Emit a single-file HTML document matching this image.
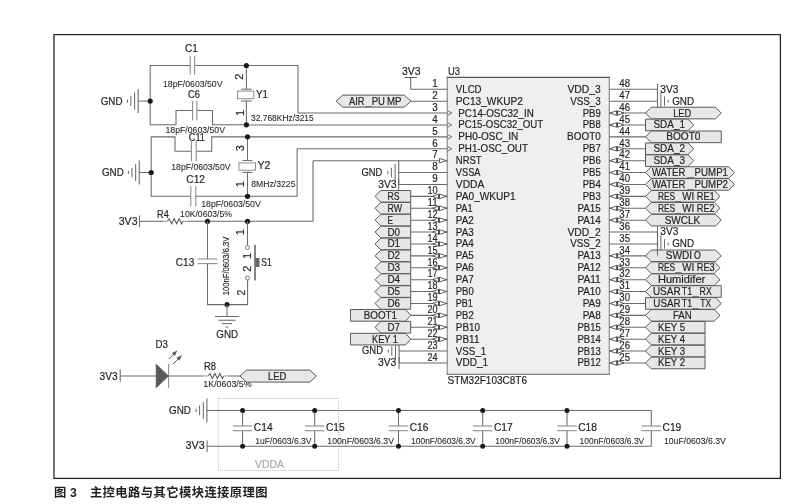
<!DOCTYPE html>
<html><head><meta charset="utf-8"><title>Fig 3</title>
<style>
html,body{margin:0;padding:0;background:#fff;}
body{width:812px;height:504px;overflow:hidden;font-family:"Liberation Sans",sans-serif;}
svg{display:block;will-change:transform;}
svg text{font-family:"Liberation Sans",sans-serif;}
svg text.cap{font-family:"Liberation Sans","Noto Sans CJK SC",sans-serif;font-weight:bold;}
</style></head><body>
<svg width="812" height="504" viewBox="0 0 812 504">
<rect width="812" height="504" fill="#fff"/>
<rect x="53.95" y="34.6" width="726.45" height="443.8" fill="none" stroke="#222" stroke-width="1.25"/>
<rect x="447.3" y="77.4" width="161.99999999999994" height="296.9" fill="#eeeff1" stroke="none"/>
<path d="M447.3 76.8L447.3 374.9" stroke="#959595" stroke-width="1.3" fill="none"/>
<path d="M609.3 76.8L609.3 374.9" stroke="#959595" stroke-width="1.3" fill="none"/>
<path d="M446.7 77.4L609.9 77.4" stroke="#555" stroke-width="1.2" fill="none"/>
<path d="M446.7 374.3L609.9 374.3" stroke="#808080" stroke-width="1.2" fill="none"/>
<text x="448" y="75" font-size="11.5" textLength="12" lengthAdjust="spacingAndGlyphs" fill="#231f20" stroke="#231f20" stroke-width="0.2">U3</text>
<text x="447.5" y="384" font-size="11.2" textLength="79.5" lengthAdjust="spacingAndGlyphs" fill="#231f20" stroke="#231f20" stroke-width="0.2">STM32F103C8T6</text>
<text x="455.8" y="93" font-size="11.2" textLength="25.8" lengthAdjust="spacingAndGlyphs" fill="#231f20" stroke="#231f20" stroke-width="0.2">VLCD</text>
<text x="432.32" y="87" font-size="11.2" textLength="5.48" lengthAdjust="spacingAndGlyphs" fill="#231f20" stroke="#231f20" stroke-width="0.2">1</text>
<text x="455.8" y="105" font-size="11.2" textLength="67.1" lengthAdjust="spacingAndGlyphs" fill="#231f20" stroke="#231f20" stroke-width="0.2">PC13_WKUP2</text>
<text x="432.32" y="99" font-size="11.2" textLength="5.48" lengthAdjust="spacingAndGlyphs" fill="#231f20" stroke="#231f20" stroke-width="0.2">2</text>
<text x="458.3" y="117" font-size="11.2" textLength="75.45" lengthAdjust="spacingAndGlyphs" fill="#231f20" stroke="#231f20" stroke-width="0.2">PC14-OSC32_IN</text>
<path d="M447.6 110.75L451.8 113.05L447.6 115.35" stroke="#666" stroke-width="0.9" fill="none" stroke-linejoin="miter"/>
<text x="432.32" y="111" font-size="11.2" textLength="5.48" lengthAdjust="spacingAndGlyphs" fill="#231f20" stroke="#231f20" stroke-width="0.2">3</text>
<text x="458.3" y="128" font-size="11.2" textLength="84.9" lengthAdjust="spacingAndGlyphs" fill="#231f20" stroke="#231f20" stroke-width="0.2">PC15-OSC32_OUT</text>
<path d="M447.6 122.65L451.8 124.95L447.6 127.25" stroke="#666" stroke-width="0.9" fill="none" stroke-linejoin="miter"/>
<text x="432.32" y="123" font-size="11.2" textLength="5.48" lengthAdjust="spacingAndGlyphs" fill="#231f20" stroke="#231f20" stroke-width="0.2">4</text>
<text x="458.3" y="140" font-size="11.2" textLength="59.9" lengthAdjust="spacingAndGlyphs" fill="#231f20" stroke="#231f20" stroke-width="0.2">PH0-OSC_IN</text>
<path d="M447.6 134.55L451.8 136.85L447.6 139.15" stroke="#666" stroke-width="0.9" fill="none" stroke-linejoin="miter"/>
<text x="432.32" y="135" font-size="11.2" textLength="5.48" lengthAdjust="spacingAndGlyphs" fill="#231f20" stroke="#231f20" stroke-width="0.2">5</text>
<text x="458.3" y="152" font-size="11.2" textLength="69.6" lengthAdjust="spacingAndGlyphs" fill="#231f20" stroke="#231f20" stroke-width="0.2">PH1-OSC_OUT</text>
<path d="M447.6 146.45L451.8 148.75L447.6 151.05" stroke="#666" stroke-width="0.9" fill="none" stroke-linejoin="miter"/>
<text x="432.32" y="147" font-size="11.2" textLength="5.48" lengthAdjust="spacingAndGlyphs" fill="#231f20" stroke="#231f20" stroke-width="0.2">6</text>
<text x="455.8" y="164" font-size="11.2" textLength="25.8" lengthAdjust="spacingAndGlyphs" fill="#231f20" stroke="#231f20" stroke-width="0.2">NRST</text>
<text x="432.32" y="158" font-size="11.2" textLength="5.48" lengthAdjust="spacingAndGlyphs" fill="#231f20" stroke="#231f20" stroke-width="0.2">7</text>
<text x="455.8" y="176" font-size="11.2" textLength="24.7" lengthAdjust="spacingAndGlyphs" fill="#231f20" stroke="#231f20" stroke-width="0.2">VSSA</text>
<text x="432.32" y="170" font-size="11.2" textLength="5.48" lengthAdjust="spacingAndGlyphs" fill="#231f20" stroke="#231f20" stroke-width="0.2">8</text>
<text x="455.8" y="188" font-size="11.2" textLength="28.5" lengthAdjust="spacingAndGlyphs" fill="#231f20" stroke="#231f20" stroke-width="0.2">VDDA</text>
<text x="432.32" y="182" font-size="11.2" textLength="5.48" lengthAdjust="spacingAndGlyphs" fill="#231f20" stroke="#231f20" stroke-width="0.2">9</text>
<text x="455.8" y="200" font-size="11.2" textLength="59.9" lengthAdjust="spacingAndGlyphs" fill="#231f20" stroke="#231f20" stroke-width="0.2">PA0_WKUP1</text>
<text x="427.5" y="194" font-size="11.2" textLength="10.1" lengthAdjust="spacingAndGlyphs" fill="#231f20" stroke="#231f20" stroke-width="0.2">10</text>
<text x="455.8" y="212" font-size="11.2" textLength="17" lengthAdjust="spacingAndGlyphs" fill="#231f20" stroke="#231f20" stroke-width="0.2">PA1</text>
<text x="427.5" y="206" font-size="11.2" textLength="10.1" lengthAdjust="spacingAndGlyphs" fill="#231f20" stroke="#231f20" stroke-width="0.2">11</text>
<text x="455.8" y="224" font-size="11.2" textLength="17.9" lengthAdjust="spacingAndGlyphs" fill="#231f20" stroke="#231f20" stroke-width="0.2">PA2</text>
<text x="427.5" y="218" font-size="11.2" textLength="10.1" lengthAdjust="spacingAndGlyphs" fill="#231f20" stroke="#231f20" stroke-width="0.2">12</text>
<text x="455.8" y="236" font-size="11.2" textLength="17.9" lengthAdjust="spacingAndGlyphs" fill="#231f20" stroke="#231f20" stroke-width="0.2">PA3</text>
<text x="427.5" y="230" font-size="11.2" textLength="10.1" lengthAdjust="spacingAndGlyphs" fill="#231f20" stroke="#231f20" stroke-width="0.2">13</text>
<text x="455.8" y="247" font-size="11.2" textLength="17.9" lengthAdjust="spacingAndGlyphs" fill="#231f20" stroke="#231f20" stroke-width="0.2">PA4</text>
<text x="427.5" y="242" font-size="11.2" textLength="10.1" lengthAdjust="spacingAndGlyphs" fill="#231f20" stroke="#231f20" stroke-width="0.2">14</text>
<text x="455.8" y="259" font-size="11.2" textLength="17.9" lengthAdjust="spacingAndGlyphs" fill="#231f20" stroke="#231f20" stroke-width="0.2">PA5</text>
<text x="427.5" y="254" font-size="11.2" textLength="10.1" lengthAdjust="spacingAndGlyphs" fill="#231f20" stroke="#231f20" stroke-width="0.2">15</text>
<text x="455.8" y="271" font-size="11.2" textLength="17.9" lengthAdjust="spacingAndGlyphs" fill="#231f20" stroke="#231f20" stroke-width="0.2">PA6</text>
<text x="427.5" y="266" font-size="11.2" textLength="10.1" lengthAdjust="spacingAndGlyphs" fill="#231f20" stroke="#231f20" stroke-width="0.2">16</text>
<text x="455.8" y="283" font-size="11.2" textLength="17.9" lengthAdjust="spacingAndGlyphs" fill="#231f20" stroke="#231f20" stroke-width="0.2">PA7</text>
<text x="427.5" y="277" font-size="11.2" textLength="10.1" lengthAdjust="spacingAndGlyphs" fill="#231f20" stroke="#231f20" stroke-width="0.2">17</text>
<text x="455.8" y="295" font-size="11.2" textLength="17.9" lengthAdjust="spacingAndGlyphs" fill="#231f20" stroke="#231f20" stroke-width="0.2">PB0</text>
<text x="427.5" y="289" font-size="11.2" textLength="10.1" lengthAdjust="spacingAndGlyphs" fill="#231f20" stroke="#231f20" stroke-width="0.2">18</text>
<text x="455.8" y="307" font-size="11.2" textLength="17" lengthAdjust="spacingAndGlyphs" fill="#231f20" stroke="#231f20" stroke-width="0.2">PB1</text>
<text x="427.5" y="301" font-size="11.2" textLength="10.1" lengthAdjust="spacingAndGlyphs" fill="#231f20" stroke="#231f20" stroke-width="0.2">19</text>
<text x="455.8" y="319" font-size="11.2" textLength="17.9" lengthAdjust="spacingAndGlyphs" fill="#231f20" stroke="#231f20" stroke-width="0.2">PB2</text>
<text x="427.5" y="313" font-size="11.2" textLength="10.1" lengthAdjust="spacingAndGlyphs" fill="#231f20" stroke="#231f20" stroke-width="0.2">20</text>
<text x="455.8" y="331" font-size="11.2" textLength="24.2" lengthAdjust="spacingAndGlyphs" fill="#231f20" stroke="#231f20" stroke-width="0.2">PB10</text>
<text x="427.5" y="325" font-size="11.2" textLength="10.1" lengthAdjust="spacingAndGlyphs" fill="#231f20" stroke="#231f20" stroke-width="0.2">21</text>
<text x="455.8" y="343" font-size="11.2" textLength="23.7" lengthAdjust="spacingAndGlyphs" fill="#231f20" stroke="#231f20" stroke-width="0.2">PB11</text>
<text x="427.5" y="337" font-size="11.2" textLength="10.1" lengthAdjust="spacingAndGlyphs" fill="#231f20" stroke="#231f20" stroke-width="0.2">22</text>
<text x="455.8" y="355" font-size="11.2" textLength="30.5" lengthAdjust="spacingAndGlyphs" fill="#231f20" stroke="#231f20" stroke-width="0.2">VSS_1</text>
<text x="427.5" y="349" font-size="11.2" textLength="10.1" lengthAdjust="spacingAndGlyphs" fill="#231f20" stroke="#231f20" stroke-width="0.2">23</text>
<text x="455.8" y="366" font-size="11.2" textLength="32.2" lengthAdjust="spacingAndGlyphs" fill="#231f20" stroke="#231f20" stroke-width="0.2">VDD_1</text>
<text x="427.5" y="361" font-size="11.2" textLength="10.1" lengthAdjust="spacingAndGlyphs" fill="#231f20" stroke="#231f20" stroke-width="0.2">24</text>
<text x="567.4" y="93" font-size="11.2" textLength="33.4" lengthAdjust="spacingAndGlyphs" fill="#231f20" stroke="#231f20" stroke-width="0.2">VDD_3</text>
<text x="619.3" y="87" font-size="11.2" textLength="10.7" lengthAdjust="spacingAndGlyphs" fill="#231f20" stroke="#231f20" stroke-width="0.2">48</text>
<text x="570.2" y="105" font-size="11.2" textLength="30.6" lengthAdjust="spacingAndGlyphs" fill="#231f20" stroke="#231f20" stroke-width="0.2">VSS_3</text>
<text x="619.3" y="99" font-size="11.2" textLength="10.7" lengthAdjust="spacingAndGlyphs" fill="#231f20" stroke="#231f20" stroke-width="0.2">47</text>
<text x="582.7" y="117" font-size="11.2" textLength="18.1" lengthAdjust="spacingAndGlyphs" fill="#231f20" stroke="#231f20" stroke-width="0.2">PB9</text>
<text x="619.3" y="111" font-size="11.2" textLength="10.7" lengthAdjust="spacingAndGlyphs" fill="#231f20" stroke="#231f20" stroke-width="0.2">46</text>
<text x="582.7" y="128" font-size="11.2" textLength="18.1" lengthAdjust="spacingAndGlyphs" fill="#231f20" stroke="#231f20" stroke-width="0.2">PB8</text>
<text x="619.3" y="123" font-size="11.2" textLength="10.7" lengthAdjust="spacingAndGlyphs" fill="#231f20" stroke="#231f20" stroke-width="0.2">45</text>
<text x="567.1" y="140" font-size="11.2" textLength="33.7" lengthAdjust="spacingAndGlyphs" fill="#231f20" stroke="#231f20" stroke-width="0.2">BOOT0</text>
<text x="619.3" y="135" font-size="11.2" textLength="10.7" lengthAdjust="spacingAndGlyphs" fill="#231f20" stroke="#231f20" stroke-width="0.2">44</text>
<text x="582.7" y="152" font-size="11.2" textLength="18.1" lengthAdjust="spacingAndGlyphs" fill="#231f20" stroke="#231f20" stroke-width="0.2">PB7</text>
<text x="619.3" y="147" font-size="11.2" textLength="10.7" lengthAdjust="spacingAndGlyphs" fill="#231f20" stroke="#231f20" stroke-width="0.2">43</text>
<text x="582.7" y="164" font-size="11.2" textLength="18.1" lengthAdjust="spacingAndGlyphs" fill="#231f20" stroke="#231f20" stroke-width="0.2">PB6</text>
<text x="619.3" y="158" font-size="11.2" textLength="10.7" lengthAdjust="spacingAndGlyphs" fill="#231f20" stroke="#231f20" stroke-width="0.2">42</text>
<text x="582.7" y="176" font-size="11.2" textLength="18.1" lengthAdjust="spacingAndGlyphs" fill="#231f20" stroke="#231f20" stroke-width="0.2">PB5</text>
<text x="619.3" y="170" font-size="11.2" textLength="10.7" lengthAdjust="spacingAndGlyphs" fill="#231f20" stroke="#231f20" stroke-width="0.2">41</text>
<text x="582.7" y="188" font-size="11.2" textLength="18.1" lengthAdjust="spacingAndGlyphs" fill="#231f20" stroke="#231f20" stroke-width="0.2">PB4</text>
<text x="619.3" y="182" font-size="11.2" textLength="10.7" lengthAdjust="spacingAndGlyphs" fill="#231f20" stroke="#231f20" stroke-width="0.2">40</text>
<text x="582.7" y="200" font-size="11.2" textLength="18.1" lengthAdjust="spacingAndGlyphs" fill="#231f20" stroke="#231f20" stroke-width="0.2">PB3</text>
<text x="619.3" y="194" font-size="11.2" textLength="10.7" lengthAdjust="spacingAndGlyphs" fill="#231f20" stroke="#231f20" stroke-width="0.2">39</text>
<text x="577.4" y="212" font-size="11.2" textLength="23.4" lengthAdjust="spacingAndGlyphs" fill="#231f20" stroke="#231f20" stroke-width="0.2">PA15</text>
<text x="619.3" y="206" font-size="11.2" textLength="10.7" lengthAdjust="spacingAndGlyphs" fill="#231f20" stroke="#231f20" stroke-width="0.2">38</text>
<text x="577.4" y="224" font-size="11.2" textLength="23.4" lengthAdjust="spacingAndGlyphs" fill="#231f20" stroke="#231f20" stroke-width="0.2">PA14</text>
<text x="619.3" y="218" font-size="11.2" textLength="10.7" lengthAdjust="spacingAndGlyphs" fill="#231f20" stroke="#231f20" stroke-width="0.2">37</text>
<text x="567.4" y="236" font-size="11.2" textLength="33.4" lengthAdjust="spacingAndGlyphs" fill="#231f20" stroke="#231f20" stroke-width="0.2">VDD_2</text>
<text x="619.3" y="230" font-size="11.2" textLength="10.7" lengthAdjust="spacingAndGlyphs" fill="#231f20" stroke="#231f20" stroke-width="0.2">36</text>
<text x="570.2" y="247" font-size="11.2" textLength="30.6" lengthAdjust="spacingAndGlyphs" fill="#231f20" stroke="#231f20" stroke-width="0.2">VSS_2</text>
<text x="619.3" y="242" font-size="11.2" textLength="10.7" lengthAdjust="spacingAndGlyphs" fill="#231f20" stroke="#231f20" stroke-width="0.2">35</text>
<text x="577.4" y="259" font-size="11.2" textLength="23.4" lengthAdjust="spacingAndGlyphs" fill="#231f20" stroke="#231f20" stroke-width="0.2">PA13</text>
<text x="619.3" y="254" font-size="11.2" textLength="10.7" lengthAdjust="spacingAndGlyphs" fill="#231f20" stroke="#231f20" stroke-width="0.2">34</text>
<text x="577.4" y="271" font-size="11.2" textLength="23.4" lengthAdjust="spacingAndGlyphs" fill="#231f20" stroke="#231f20" stroke-width="0.2">PA12</text>
<text x="619.3" y="266" font-size="11.2" textLength="10.7" lengthAdjust="spacingAndGlyphs" fill="#231f20" stroke="#231f20" stroke-width="0.2">33</text>
<text x="577.4" y="283" font-size="11.2" textLength="23.4" lengthAdjust="spacingAndGlyphs" fill="#231f20" stroke="#231f20" stroke-width="0.2">PA11</text>
<text x="619.3" y="277" font-size="11.2" textLength="10.7" lengthAdjust="spacingAndGlyphs" fill="#231f20" stroke="#231f20" stroke-width="0.2">32</text>
<text x="577.4" y="295" font-size="11.2" textLength="23.4" lengthAdjust="spacingAndGlyphs" fill="#231f20" stroke="#231f20" stroke-width="0.2">PA10</text>
<text x="619.3" y="289" font-size="11.2" textLength="10.7" lengthAdjust="spacingAndGlyphs" fill="#231f20" stroke="#231f20" stroke-width="0.2">31</text>
<text x="582.7" y="307" font-size="11.2" textLength="18.1" lengthAdjust="spacingAndGlyphs" fill="#231f20" stroke="#231f20" stroke-width="0.2">PA9</text>
<text x="619.3" y="301" font-size="11.2" textLength="10.7" lengthAdjust="spacingAndGlyphs" fill="#231f20" stroke="#231f20" stroke-width="0.2">30</text>
<text x="582.7" y="319" font-size="11.2" textLength="18.1" lengthAdjust="spacingAndGlyphs" fill="#231f20" stroke="#231f20" stroke-width="0.2">PA8</text>
<text x="619.3" y="313" font-size="11.2" textLength="10.7" lengthAdjust="spacingAndGlyphs" fill="#231f20" stroke="#231f20" stroke-width="0.2">29</text>
<text x="577.4" y="331" font-size="11.2" textLength="23.4" lengthAdjust="spacingAndGlyphs" fill="#231f20" stroke="#231f20" stroke-width="0.2">PB15</text>
<text x="619.3" y="325" font-size="11.2" textLength="10.7" lengthAdjust="spacingAndGlyphs" fill="#231f20" stroke="#231f20" stroke-width="0.2">28</text>
<text x="577.4" y="343" font-size="11.2" textLength="23.4" lengthAdjust="spacingAndGlyphs" fill="#231f20" stroke="#231f20" stroke-width="0.2">PB14</text>
<text x="619.3" y="337" font-size="11.2" textLength="10.7" lengthAdjust="spacingAndGlyphs" fill="#231f20" stroke="#231f20" stroke-width="0.2">27</text>
<text x="577.4" y="355" font-size="11.2" textLength="23.4" lengthAdjust="spacingAndGlyphs" fill="#231f20" stroke="#231f20" stroke-width="0.2">PB13</text>
<text x="619.3" y="349" font-size="11.2" textLength="10.7" lengthAdjust="spacingAndGlyphs" fill="#231f20" stroke="#231f20" stroke-width="0.2">26</text>
<text x="577.4" y="366" font-size="11.2" textLength="23.4" lengthAdjust="spacingAndGlyphs" fill="#231f20" stroke="#231f20" stroke-width="0.2">PB12</text>
<text x="619.3" y="361" font-size="11.2" textLength="10.7" lengthAdjust="spacingAndGlyphs" fill="#231f20" stroke="#231f20" stroke-width="0.2">25</text>
<text x="402" y="75" font-size="11.5" textLength="18.5" lengthAdjust="spacingAndGlyphs" fill="#231f20" stroke="#231f20" stroke-width="0.2">3V3</text>
<path d="M404.6 77.5L417 77.5" stroke="#5a5a5a" stroke-width="1.05" fill="none"/>
<path d="M410.7 77.5L410.7 89.25L447.3 89.25" stroke="#6a6a6a" stroke-width="1.05" fill="none" stroke-linejoin="miter"/>
<path d="M411 101.15L447.3 101.15" stroke="#6a6a6a" stroke-width="1.05" fill="none"/>
<path d="M336.1 101.15L342.8 95.15L404.3 95.15L411 101.15L404.3 107.15L342.8 107.15Z" stroke="#58595b" stroke-width="1" fill="#e6e7e9" stroke-linejoin="miter"/>
<text x="349" y="105" font-size="11" textLength="15.6" lengthAdjust="spacingAndGlyphs" fill="#231f20" stroke="#231f20" stroke-width="0.2">AIR</text>
<text x="365.3" y="105" font-size="11" textLength="5.9" lengthAdjust="spacingAndGlyphs" fill="#6d6e71" stroke="#6d6e71" stroke-width="0.2">_</text>
<text x="371.7" y="105" font-size="11" textLength="13.2" lengthAdjust="spacingAndGlyphs" fill="#231f20" stroke="#231f20" stroke-width="0.2">PU</text>
<text x="386.9" y="105" font-size="11" textLength="14.5" lengthAdjust="spacingAndGlyphs" fill="#231f20" stroke="#231f20" stroke-width="0.2">MP</text>
<path d="M298 113.05L447.3 113.05" stroke="#6a6a6a" stroke-width="1.05" fill="none"/>
<path d="M246.5 124.95L447.3 124.95" stroke="#6a6a6a" stroke-width="1.05" fill="none"/>
<path d="M247.5 136.85L447.3 136.85" stroke="#6a6a6a" stroke-width="1.05" fill="none"/>
<path d="M297.1 148.75L447.3 148.75" stroke="#6a6a6a" stroke-width="1.05" fill="none"/>
<path d="M313 160.65L447.3 160.65" stroke="#6a6a6a" stroke-width="1.05" fill="none"/>
<path d="M439.5 158.45L446.4 160.65L439.5 162.85Z" stroke="#505050" stroke-width="0.9" fill="#fff" stroke-linejoin="miter"/>
<path d="M398.7 160.65L398.7 184.45" stroke="#6a6a6a" stroke-width="1.1" fill="none"/>
<path d="M395.1 164.05L395.1 181.05" stroke="#6a6a6a" stroke-width="1.05" fill="none"/>
<path d="M391.4 167.75L391.4 177.35" stroke="#6a6a6a" stroke-width="1.05" fill="none"/>
<path d="M387.9 170.95L387.9 174.15" stroke="#6a6a6a" stroke-width="1.05" fill="none"/>
<path d="M398.7 172.55L447.3 172.55" stroke="#6a6a6a" stroke-width="1.05" fill="none"/>
<text x="361.5" y="176" font-size="11.5" textLength="20.9" lengthAdjust="spacingAndGlyphs" fill="#231f20" stroke="#231f20" stroke-width="0.2">GND</text>
<path d="M398.7 178.85L398.7 190.85" stroke="#6a6a6a" stroke-width="1.05" fill="none"/>
<path d="M398.7 184.45L447.3 184.45" stroke="#6a6a6a" stroke-width="1.05" fill="none"/>
<text x="378.3" y="188" font-size="11.5" textLength="18.3" lengthAdjust="spacingAndGlyphs" fill="#231f20" stroke="#231f20" stroke-width="0.2">3V3</text>
<path d="M399.1 339.15L399.1 362.95" stroke="#6a6a6a" stroke-width="1.1" fill="none"/>
<path d="M395.5 342.55L395.5 359.55" stroke="#6a6a6a" stroke-width="1.05" fill="none"/>
<path d="M391.8 346.25L391.8 355.85" stroke="#6a6a6a" stroke-width="1.05" fill="none"/>
<path d="M388.3 349.45L388.3 352.65" stroke="#6a6a6a" stroke-width="1.05" fill="none"/>
<path d="M399.1 351.05L447.3 351.05" stroke="#6a6a6a" stroke-width="1.05" fill="none"/>
<text x="362" y="354" font-size="11.5" textLength="21" lengthAdjust="spacingAndGlyphs" fill="#231f20" stroke="#231f20" stroke-width="0.2">GND</text>
<path d="M399.1 357.35L399.1 368.95" stroke="#6a6a6a" stroke-width="1.05" fill="none"/>
<path d="M399.1 362.95L447.3 362.95" stroke="#6a6a6a" stroke-width="1.05" fill="none"/>
<text x="378" y="366" font-size="11.5" textLength="18.3" lengthAdjust="spacingAndGlyphs" fill="#231f20" stroke="#231f20" stroke-width="0.2">3V3</text>
<path d="M410.6 196.35L447.3 196.35" stroke="#6a6a6a" stroke-width="1.05" fill="none"/>
<path d="M375 196.35L380.8 190.55L410.7 190.55L410.7 202.15L380.8 202.15Z" stroke="#58595b" stroke-width="1" fill="#e6e7e9" stroke-linejoin="miter"/>
<text x="387.5" y="200" font-size="11.0" textLength="12.1" lengthAdjust="spacingAndGlyphs" fill="#231f20" stroke="#231f20" stroke-width="0.2">RS</text>
<path d="M432.7 196.35L438.6 194.15L438.6 198.55Z" stroke="#4a4a4a" stroke-width="0.9" fill="#fff" stroke-linejoin="miter"/>
<path d="M446.8 196.35L439.4 194.05L439.4 198.65Z" stroke="#4a4a4a" stroke-width="0.9" fill="#fff" stroke-linejoin="miter"/>
<path d="M439 194.05L439 198.65" stroke="#444" stroke-width="1.3" fill="none"/>
<path d="M410.6 208.25L447.3 208.25" stroke="#6a6a6a" stroke-width="1.05" fill="none"/>
<path d="M375 208.25L380.8 202.45L410.7 202.45L410.7 214.05L380.8 214.05Z" stroke="#58595b" stroke-width="1" fill="#e6e7e9" stroke-linejoin="miter"/>
<text x="387.5" y="212" font-size="11.0" textLength="14.5" lengthAdjust="spacingAndGlyphs" fill="#231f20" stroke="#231f20" stroke-width="0.2">RW</text>
<path d="M432.7 208.25L438.6 206.05L438.6 210.45Z" stroke="#4a4a4a" stroke-width="0.9" fill="#fff" stroke-linejoin="miter"/>
<path d="M446.8 208.25L439.4 205.95L439.4 210.55Z" stroke="#4a4a4a" stroke-width="0.9" fill="#fff" stroke-linejoin="miter"/>
<path d="M439 205.95L439 210.55" stroke="#444" stroke-width="1.3" fill="none"/>
<path d="M410.6 220.15L447.3 220.15" stroke="#6a6a6a" stroke-width="1.05" fill="none"/>
<path d="M375 220.15L380.8 214.35L410.7 214.35L410.7 225.95L380.8 225.95Z" stroke="#58595b" stroke-width="1" fill="#e6e7e9" stroke-linejoin="miter"/>
<text x="387.5" y="224" font-size="11.0" textLength="5.5" lengthAdjust="spacingAndGlyphs" fill="#231f20" stroke="#231f20" stroke-width="0.2">E</text>
<path d="M432.7 220.15L438.6 217.95L438.6 222.35Z" stroke="#4a4a4a" stroke-width="0.9" fill="#fff" stroke-linejoin="miter"/>
<path d="M446.8 220.15L439.4 217.85L439.4 222.45Z" stroke="#4a4a4a" stroke-width="0.9" fill="#fff" stroke-linejoin="miter"/>
<path d="M439 217.85L439 222.45" stroke="#444" stroke-width="1.3" fill="none"/>
<path d="M410.6 232.05L447.3 232.05" stroke="#6a6a6a" stroke-width="1.05" fill="none"/>
<path d="M375 232.05L380.8 226.25L410.7 226.25L410.7 237.85L380.8 237.85Z" stroke="#58595b" stroke-width="1" fill="#e6e7e9" stroke-linejoin="miter"/>
<text x="387.5" y="236" font-size="11.0" textLength="12.6" lengthAdjust="spacingAndGlyphs" fill="#231f20" stroke="#231f20" stroke-width="0.2">D0</text>
<path d="M432.7 232.05L438.6 229.85L438.6 234.25Z" stroke="#4a4a4a" stroke-width="0.9" fill="#fff" stroke-linejoin="miter"/>
<path d="M446.8 232.05L439.4 229.75L439.4 234.35Z" stroke="#4a4a4a" stroke-width="0.9" fill="#fff" stroke-linejoin="miter"/>
<path d="M439 229.75L439 234.35" stroke="#444" stroke-width="1.3" fill="none"/>
<path d="M410.6 243.95L447.3 243.95" stroke="#6a6a6a" stroke-width="1.05" fill="none"/>
<path d="M375 243.95L380.8 238.15L410.7 238.15L410.7 249.75L380.8 249.75Z" stroke="#58595b" stroke-width="1" fill="#e6e7e9" stroke-linejoin="miter"/>
<text x="387.5" y="247" font-size="11.0" textLength="12.6" lengthAdjust="spacingAndGlyphs" fill="#231f20" stroke="#231f20" stroke-width="0.2">D1</text>
<path d="M432.7 243.95L438.6 241.75L438.6 246.15Z" stroke="#4a4a4a" stroke-width="0.9" fill="#fff" stroke-linejoin="miter"/>
<path d="M446.8 243.95L439.4 241.65L439.4 246.25Z" stroke="#4a4a4a" stroke-width="0.9" fill="#fff" stroke-linejoin="miter"/>
<path d="M439 241.65L439 246.25" stroke="#444" stroke-width="1.3" fill="none"/>
<path d="M410.6 255.85L447.3 255.85" stroke="#6a6a6a" stroke-width="1.05" fill="none"/>
<path d="M375 255.85L380.8 250.05L410.7 250.05L410.7 261.65L380.8 261.65Z" stroke="#58595b" stroke-width="1" fill="#e6e7e9" stroke-linejoin="miter"/>
<text x="387.5" y="259" font-size="11.0" textLength="12.6" lengthAdjust="spacingAndGlyphs" fill="#231f20" stroke="#231f20" stroke-width="0.2">D2</text>
<path d="M432.7 255.85L438.6 253.65L438.6 258.05Z" stroke="#4a4a4a" stroke-width="0.9" fill="#fff" stroke-linejoin="miter"/>
<path d="M446.8 255.85L439.4 253.55L439.4 258.15Z" stroke="#4a4a4a" stroke-width="0.9" fill="#fff" stroke-linejoin="miter"/>
<path d="M439 253.55L439 258.15" stroke="#444" stroke-width="1.3" fill="none"/>
<path d="M410.6 267.75L447.3 267.75" stroke="#6a6a6a" stroke-width="1.05" fill="none"/>
<path d="M375 267.75L380.8 261.95L410.7 261.95L410.7 273.55L380.8 273.55Z" stroke="#58595b" stroke-width="1" fill="#e6e7e9" stroke-linejoin="miter"/>
<text x="387.5" y="271" font-size="11.0" textLength="12.6" lengthAdjust="spacingAndGlyphs" fill="#231f20" stroke="#231f20" stroke-width="0.2">D3</text>
<path d="M432.7 267.75L438.6 265.55L438.6 269.95Z" stroke="#4a4a4a" stroke-width="0.9" fill="#fff" stroke-linejoin="miter"/>
<path d="M446.8 267.75L439.4 265.45L439.4 270.05Z" stroke="#4a4a4a" stroke-width="0.9" fill="#fff" stroke-linejoin="miter"/>
<path d="M439 265.45L439 270.05" stroke="#444" stroke-width="1.3" fill="none"/>
<path d="M410.6 279.65L447.3 279.65" stroke="#6a6a6a" stroke-width="1.05" fill="none"/>
<path d="M375 279.65L380.8 273.85L410.7 273.85L410.7 285.45L380.8 285.45Z" stroke="#58595b" stroke-width="1" fill="#e6e7e9" stroke-linejoin="miter"/>
<text x="387.5" y="283" font-size="11.0" textLength="12.6" lengthAdjust="spacingAndGlyphs" fill="#231f20" stroke="#231f20" stroke-width="0.2">D4</text>
<path d="M432.7 279.65L438.6 277.45L438.6 281.85Z" stroke="#4a4a4a" stroke-width="0.9" fill="#fff" stroke-linejoin="miter"/>
<path d="M446.8 279.65L439.4 277.35L439.4 281.95Z" stroke="#4a4a4a" stroke-width="0.9" fill="#fff" stroke-linejoin="miter"/>
<path d="M439 277.35L439 281.95" stroke="#444" stroke-width="1.3" fill="none"/>
<path d="M410.6 291.55L447.3 291.55" stroke="#6a6a6a" stroke-width="1.05" fill="none"/>
<path d="M375 291.55L380.8 285.75L410.7 285.75L410.7 297.35L380.8 297.35Z" stroke="#58595b" stroke-width="1" fill="#e6e7e9" stroke-linejoin="miter"/>
<text x="387.5" y="295" font-size="11.0" textLength="12.6" lengthAdjust="spacingAndGlyphs" fill="#231f20" stroke="#231f20" stroke-width="0.2">D5</text>
<path d="M432.7 291.55L438.6 289.35L438.6 293.75Z" stroke="#4a4a4a" stroke-width="0.9" fill="#fff" stroke-linejoin="miter"/>
<path d="M446.8 291.55L439.4 289.25L439.4 293.85Z" stroke="#4a4a4a" stroke-width="0.9" fill="#fff" stroke-linejoin="miter"/>
<path d="M439 289.25L439 293.85" stroke="#444" stroke-width="1.3" fill="none"/>
<path d="M410.6 303.45L447.3 303.45" stroke="#6a6a6a" stroke-width="1.05" fill="none"/>
<path d="M375 303.45L380.8 297.65L410.7 297.65L410.7 309.25L380.8 309.25Z" stroke="#58595b" stroke-width="1" fill="#e6e7e9" stroke-linejoin="miter"/>
<text x="387.5" y="307" font-size="11.0" textLength="12.6" lengthAdjust="spacingAndGlyphs" fill="#231f20" stroke="#231f20" stroke-width="0.2">D6</text>
<path d="M432.7 303.45L438.6 301.25L438.6 305.65Z" stroke="#4a4a4a" stroke-width="0.9" fill="#fff" stroke-linejoin="miter"/>
<path d="M446.8 303.45L439.4 301.15L439.4 305.75Z" stroke="#4a4a4a" stroke-width="0.9" fill="#fff" stroke-linejoin="miter"/>
<path d="M439 301.15L439 305.75" stroke="#444" stroke-width="1.3" fill="none"/>
<path d="M410.6 327.25L447.3 327.25" stroke="#6a6a6a" stroke-width="1.05" fill="none"/>
<path d="M375 327.25L380.8 321.45L410.7 321.45L410.7 333.05L380.8 333.05Z" stroke="#58595b" stroke-width="1" fill="#e6e7e9" stroke-linejoin="miter"/>
<text x="387.5" y="331" font-size="11.0" textLength="12.5" lengthAdjust="spacingAndGlyphs" fill="#231f20" stroke="#231f20" stroke-width="0.2">D7</text>
<path d="M432.7 327.25L438.6 325.05L438.6 329.45Z" stroke="#4a4a4a" stroke-width="0.9" fill="#fff" stroke-linejoin="miter"/>
<path d="M446.8 327.25L439.4 324.95L439.4 329.55Z" stroke="#4a4a4a" stroke-width="0.9" fill="#fff" stroke-linejoin="miter"/>
<path d="M439 324.95L439 329.55" stroke="#444" stroke-width="1.3" fill="none"/>
<path d="M410.6 315.35L447.3 315.35" stroke="#6a6a6a" stroke-width="1.05" fill="none"/>
<path d="M350.5 321.15L350.5 309.55L405.5 309.55L410.8 315.35L405.5 321.15Z" stroke="#58595b" stroke-width="1" fill="#e6e7e9" stroke-linejoin="miter"/>
<text x="363.75" y="319" font-size="11.0" textLength="33.25" lengthAdjust="spacingAndGlyphs" fill="#231f20" stroke="#231f20" stroke-width="0.2">BOOT1</text>
<path d="M432.7 315.35L438.6 313.15L438.6 317.55Z" stroke="#4a4a4a" stroke-width="0.9" fill="#fff" stroke-linejoin="miter"/>
<path d="M446.8 315.35L439.4 313.05L439.4 317.65Z" stroke="#4a4a4a" stroke-width="0.9" fill="#fff" stroke-linejoin="miter"/>
<path d="M439 313.05L439 317.65" stroke="#444" stroke-width="1.3" fill="none"/>
<path d="M410.6 339.15L447.3 339.15" stroke="#6a6a6a" stroke-width="1.05" fill="none"/>
<path d="M350.5 344.95L350.5 333.35L405.5 333.35L410.8 339.15L405.5 344.95Z" stroke="#58595b" stroke-width="1" fill="#e6e7e9" stroke-linejoin="miter"/>
<text x="372" y="343" font-size="11.0" textLength="26" lengthAdjust="spacingAndGlyphs" fill="#231f20" stroke="#231f20" stroke-width="0.2">KEY 1</text>
<path d="M432.7 339.15L438.6 336.95L438.6 341.35Z" stroke="#4a4a4a" stroke-width="0.9" fill="#fff" stroke-linejoin="miter"/>
<path d="M446.8 339.15L439.4 336.85L439.4 341.45Z" stroke="#4a4a4a" stroke-width="0.9" fill="#fff" stroke-linejoin="miter"/>
<path d="M439 336.85L439 341.45" stroke="#444" stroke-width="1.3" fill="none"/>
<path d="M609.3 89.25L657.5 89.25" stroke="#6a6a6a" stroke-width="1.05" fill="none"/>
<path d="M657.5 83.65L657.5 94.85" stroke="#6a6a6a" stroke-width="1.05" fill="none"/>
<text x="660.3" y="93" font-size="11.5" textLength="18" lengthAdjust="spacingAndGlyphs" fill="#231f20" stroke="#231f20" stroke-width="0.2">3V3</text>
<path d="M657.5 89.25L657.5 113.05" stroke="#6a6a6a" stroke-width="1.1" fill="none"/>
<path d="M660.9 92.65L660.9 109.65" stroke="#6a6a6a" stroke-width="1.05" fill="none"/>
<path d="M664.5 96.35L664.5 105.95" stroke="#6a6a6a" stroke-width="1.05" fill="none"/>
<path d="M668.2 99.75L668.2 102.55" stroke="#6a6a6a" stroke-width="1.05" fill="none"/>
<path d="M609.3 101.15L657.5 101.15" stroke="#6a6a6a" stroke-width="1.05" fill="none"/>
<text x="672.2" y="105" font-size="11.5" textLength="21.9" lengthAdjust="spacingAndGlyphs" fill="#231f20" stroke="#231f20" stroke-width="0.2">GND</text>
<path d="M609.3 232.05L657.5 232.05" stroke="#6a6a6a" stroke-width="1.05" fill="none"/>
<path d="M657.5 226.45L657.5 237.65" stroke="#6a6a6a" stroke-width="1.05" fill="none"/>
<text x="660.3" y="235" font-size="11.5" textLength="18" lengthAdjust="spacingAndGlyphs" fill="#231f20" stroke="#231f20" stroke-width="0.2">3V3</text>
<path d="M657.5 232.05L657.5 255.85" stroke="#6a6a6a" stroke-width="1.1" fill="none"/>
<path d="M660.9 235.45L660.9 252.45" stroke="#6a6a6a" stroke-width="1.05" fill="none"/>
<path d="M664.5 239.15L664.5 248.75" stroke="#6a6a6a" stroke-width="1.05" fill="none"/>
<path d="M668.2 242.55L668.2 245.35" stroke="#6a6a6a" stroke-width="1.05" fill="none"/>
<path d="M609.3 243.95L657.5 243.95" stroke="#6a6a6a" stroke-width="1.05" fill="none"/>
<text x="672.2" y="247" font-size="11.5" textLength="21.9" lengthAdjust="spacingAndGlyphs" fill="#231f20" stroke="#231f20" stroke-width="0.2">GND</text>
<path d="M609.3 113.05L646 113.05" stroke="#6a6a6a" stroke-width="1.05" fill="none"/>
<path d="M645.5 113.05L651.3 107.25L715.45 107.25L721.25 113.05L715.45 118.85L651.3 118.85Z" stroke="#58595b" stroke-width="1" fill="#e6e7e9" stroke-linejoin="miter"/>
<text x="673.2" y="117" font-size="11.0" textLength="18.1" lengthAdjust="spacingAndGlyphs" fill="#231f20" stroke="#231f20" stroke-width="0.2">LED</text>
<path d="M609.9 113.05L616.8 110.75L616.8 115.35Z" stroke="#4a4a4a" stroke-width="0.9" fill="#fff" stroke-linejoin="miter"/>
<path d="M624 113.05L617.6 110.85L617.6 115.25Z" stroke="#4a4a4a" stroke-width="0.9" fill="#fff" stroke-linejoin="miter"/>
<path d="M617.2 110.75L617.2 115.35" stroke="#444" stroke-width="1.3" fill="none"/>
<path d="M609.3 124.95L646 124.95" stroke="#6a6a6a" stroke-width="1.05" fill="none"/>
<path d="M645.5 130.75L645.5 119.15L687.95 119.15L693.75 124.95L687.95 130.75Z" stroke="#58595b" stroke-width="1" fill="#e6e7e9" stroke-linejoin="miter"/>
<text x="653.4" y="128" font-size="11.0" textLength="31.6" lengthAdjust="spacingAndGlyphs" fill="#231f20" stroke="#231f20" stroke-width="0.2">SDA_1</text>
<path d="M609.9 124.95L616.8 122.65L616.8 127.25Z" stroke="#4a4a4a" stroke-width="0.9" fill="#fff" stroke-linejoin="miter"/>
<path d="M624 124.95L617.6 122.75L617.6 127.15Z" stroke="#4a4a4a" stroke-width="0.9" fill="#fff" stroke-linejoin="miter"/>
<path d="M617.2 122.65L617.2 127.25" stroke="#444" stroke-width="1.3" fill="none"/>
<path d="M609.3 136.85L646 136.85" stroke="#6a6a6a" stroke-width="1.05" fill="none"/>
<path d="M645.5 136.85L651.3 131.05L721.25 131.05L721.25 142.65L651.3 142.65Z" stroke="#58595b" stroke-width="1" fill="#e6e7e9" stroke-linejoin="miter"/>
<text x="666.25" y="140" font-size="11.0" textLength="34.25" lengthAdjust="spacingAndGlyphs" fill="#231f20" stroke="#231f20" stroke-width="0.2">BOOT0</text>
<path d="M609.3 148.75L646 148.75" stroke="#6a6a6a" stroke-width="1.05" fill="none"/>
<path d="M645.5 154.55L645.5 142.95L687.95 142.95L693.75 148.75L687.95 154.55Z" stroke="#58595b" stroke-width="1" fill="#e6e7e9" stroke-linejoin="miter"/>
<text x="653.4" y="152" font-size="11.0" textLength="31.6" lengthAdjust="spacingAndGlyphs" fill="#231f20" stroke="#231f20" stroke-width="0.2">SDA_2</text>
<path d="M609.9 148.75L616.8 146.45L616.8 151.05Z" stroke="#4a4a4a" stroke-width="0.9" fill="#fff" stroke-linejoin="miter"/>
<path d="M624 148.75L617.6 146.55L617.6 150.95Z" stroke="#4a4a4a" stroke-width="0.9" fill="#fff" stroke-linejoin="miter"/>
<path d="M617.2 146.45L617.2 151.05" stroke="#444" stroke-width="1.3" fill="none"/>
<path d="M609.3 160.65L646 160.65" stroke="#6a6a6a" stroke-width="1.05" fill="none"/>
<path d="M645.5 166.45L645.5 154.85L687.95 154.85L693.75 160.65L687.95 166.45Z" stroke="#58595b" stroke-width="1" fill="#e6e7e9" stroke-linejoin="miter"/>
<text x="653.4" y="164" font-size="11.0" textLength="31.6" lengthAdjust="spacingAndGlyphs" fill="#231f20" stroke="#231f20" stroke-width="0.2">SDA_3</text>
<path d="M609.9 160.65L616.8 158.35L616.8 162.95Z" stroke="#4a4a4a" stroke-width="0.9" fill="#fff" stroke-linejoin="miter"/>
<path d="M624 160.65L617.6 158.45L617.6 162.85Z" stroke="#4a4a4a" stroke-width="0.9" fill="#fff" stroke-linejoin="miter"/>
<path d="M617.2 158.35L617.2 162.95" stroke="#444" stroke-width="1.3" fill="none"/>
<path d="M609.3 172.55L646 172.55" stroke="#6a6a6a" stroke-width="1.05" fill="none"/>
<path d="M645.5 172.55L651.3 166.75L728.7 166.75L734.5 172.55L728.7 178.35L651.3 178.35Z" stroke="#58595b" stroke-width="1" fill="#e6e7e9" stroke-linejoin="miter"/>
<text x="651.9" y="176" font-size="11.0" textLength="33.5" lengthAdjust="spacingAndGlyphs" fill="#231f20" stroke="#231f20" stroke-width="0.2">WATER</text>
<text x="687.8" y="176" font-size="11.0" textLength="5.8" lengthAdjust="spacingAndGlyphs" fill="#6d6e71" stroke="#6d6e71" stroke-width="0.2">_</text>
<text x="694.6" y="176" font-size="11.0" textLength="33.4" lengthAdjust="spacingAndGlyphs" fill="#231f20" stroke="#231f20" stroke-width="0.2">PUMP1</text>
<path d="M609.9 172.55L616.8 170.25L616.8 174.85Z" stroke="#4a4a4a" stroke-width="0.9" fill="#fff" stroke-linejoin="miter"/>
<path d="M624 172.55L617.6 170.35L617.6 174.75Z" stroke="#4a4a4a" stroke-width="0.9" fill="#fff" stroke-linejoin="miter"/>
<path d="M617.2 170.25L617.2 174.85" stroke="#444" stroke-width="1.3" fill="none"/>
<path d="M609.3 184.45L646 184.45" stroke="#6a6a6a" stroke-width="1.05" fill="none"/>
<path d="M645.5 184.45L651.3 178.65L728.7 178.65L734.5 184.45L728.7 190.25L651.3 190.25Z" stroke="#58595b" stroke-width="1" fill="#e6e7e9" stroke-linejoin="miter"/>
<text x="651.9" y="188" font-size="11.0" textLength="33.5" lengthAdjust="spacingAndGlyphs" fill="#231f20" stroke="#231f20" stroke-width="0.2">WATER</text>
<text x="687.8" y="188" font-size="11.0" textLength="5.8" lengthAdjust="spacingAndGlyphs" fill="#6d6e71" stroke="#6d6e71" stroke-width="0.2">_</text>
<text x="694.6" y="188" font-size="11.0" textLength="33.4" lengthAdjust="spacingAndGlyphs" fill="#231f20" stroke="#231f20" stroke-width="0.2">PUMP2</text>
<path d="M609.9 184.45L616.8 182.15L616.8 186.75Z" stroke="#4a4a4a" stroke-width="0.9" fill="#fff" stroke-linejoin="miter"/>
<path d="M624 184.45L617.6 182.25L617.6 186.65Z" stroke="#4a4a4a" stroke-width="0.9" fill="#fff" stroke-linejoin="miter"/>
<path d="M617.2 182.15L617.2 186.75" stroke="#444" stroke-width="1.3" fill="none"/>
<path d="M609.3 196.35L646 196.35" stroke="#6a6a6a" stroke-width="1.05" fill="none"/>
<path d="M645.5 196.35L651.3 190.55L714.2 190.55L720 196.35L714.2 202.15L651.3 202.15Z" stroke="#58595b" stroke-width="1" fill="#e6e7e9" stroke-linejoin="miter"/>
<text x="657.9" y="200" font-size="11.0" textLength="17.3" lengthAdjust="spacingAndGlyphs" fill="#231f20" stroke="#231f20" stroke-width="0.2">RES</text>
<text x="675.6" y="200" font-size="11.0" textLength="5.6" lengthAdjust="spacingAndGlyphs" fill="#6d6e71" stroke="#6d6e71" stroke-width="0.2">_</text>
<text x="682.2" y="200" font-size="11.0" textLength="12" lengthAdjust="spacingAndGlyphs" fill="#231f20" stroke="#231f20" stroke-width="0.2">WI</text>
<text x="696.7" y="200" font-size="11.0" textLength="18.1" lengthAdjust="spacingAndGlyphs" fill="#231f20" stroke="#231f20" stroke-width="0.2">RE1</text>
<path d="M609.9 196.35L616.8 194.05L616.8 198.65Z" stroke="#4a4a4a" stroke-width="0.9" fill="#fff" stroke-linejoin="miter"/>
<path d="M624 196.35L617.6 194.15L617.6 198.55Z" stroke="#4a4a4a" stroke-width="0.9" fill="#fff" stroke-linejoin="miter"/>
<path d="M617.2 194.05L617.2 198.65" stroke="#444" stroke-width="1.3" fill="none"/>
<path d="M609.3 208.25L646 208.25" stroke="#6a6a6a" stroke-width="1.05" fill="none"/>
<path d="M645.5 208.25L651.3 202.45L714.2 202.45L720 208.25L714.2 214.05L651.3 214.05Z" stroke="#58595b" stroke-width="1" fill="#e6e7e9" stroke-linejoin="miter"/>
<text x="657.9" y="212" font-size="11.0" textLength="17.3" lengthAdjust="spacingAndGlyphs" fill="#231f20" stroke="#231f20" stroke-width="0.2">RES</text>
<text x="675.6" y="212" font-size="11.0" textLength="5.6" lengthAdjust="spacingAndGlyphs" fill="#6d6e71" stroke="#6d6e71" stroke-width="0.2">_</text>
<text x="682.2" y="212" font-size="11.0" textLength="12" lengthAdjust="spacingAndGlyphs" fill="#231f20" stroke="#231f20" stroke-width="0.2">WI</text>
<text x="696.7" y="212" font-size="11.0" textLength="18.1" lengthAdjust="spacingAndGlyphs" fill="#231f20" stroke="#231f20" stroke-width="0.2">RE2</text>
<path d="M609.9 208.25L616.8 205.95L616.8 210.55Z" stroke="#4a4a4a" stroke-width="0.9" fill="#fff" stroke-linejoin="miter"/>
<path d="M624 208.25L617.6 206.05L617.6 210.45Z" stroke="#4a4a4a" stroke-width="0.9" fill="#fff" stroke-linejoin="miter"/>
<path d="M617.2 205.95L617.2 210.55" stroke="#444" stroke-width="1.3" fill="none"/>
<path d="M609.3 220.15L646 220.15" stroke="#6a6a6a" stroke-width="1.05" fill="none"/>
<path d="M645.5 220.15L651.3 214.35L715.45 214.35L721.25 220.15L715.45 225.95L651.3 225.95Z" stroke="#58595b" stroke-width="1" fill="#e6e7e9" stroke-linejoin="miter"/>
<text x="664.7" y="224" font-size="11.0" textLength="35.6" lengthAdjust="spacingAndGlyphs" fill="#231f20" stroke="#231f20" stroke-width="0.2">SWCLK</text>
<path d="M609.9 220.15L616.8 217.85L616.8 222.45Z" stroke="#4a4a4a" stroke-width="0.9" fill="#fff" stroke-linejoin="miter"/>
<path d="M624 220.15L617.6 217.95L617.6 222.35Z" stroke="#4a4a4a" stroke-width="0.9" fill="#fff" stroke-linejoin="miter"/>
<path d="M617.2 217.85L617.2 222.45" stroke="#444" stroke-width="1.3" fill="none"/>
<path d="M609.3 255.85L646 255.85" stroke="#6a6a6a" stroke-width="1.05" fill="none"/>
<path d="M645.5 255.85L651.3 250.05L715.45 250.05L721.25 255.85L715.45 261.65L651.3 261.65Z" stroke="#58595b" stroke-width="1" fill="#e6e7e9" stroke-linejoin="miter"/>
<text x="665.7" y="259" font-size="11.0" textLength="26.5" lengthAdjust="spacingAndGlyphs" fill="#231f20" stroke="#231f20" stroke-width="0.2">SWDI</text>
<text x="693.9" y="259" font-size="11.0" textLength="6.8" lengthAdjust="spacingAndGlyphs" fill="#231f20" stroke="#231f20" stroke-width="0.2">O</text>
<path d="M609.9 255.85L616.8 253.55L616.8 258.15Z" stroke="#4a4a4a" stroke-width="0.9" fill="#fff" stroke-linejoin="miter"/>
<path d="M624 255.85L617.6 253.65L617.6 258.05Z" stroke="#4a4a4a" stroke-width="0.9" fill="#fff" stroke-linejoin="miter"/>
<path d="M617.2 253.55L617.2 258.15" stroke="#444" stroke-width="1.3" fill="none"/>
<path d="M609.3 267.75L646 267.75" stroke="#6a6a6a" stroke-width="1.05" fill="none"/>
<path d="M645.5 267.75L651.3 261.95L714.2 261.95L720 267.75L714.2 273.55L651.3 273.55Z" stroke="#58595b" stroke-width="1" fill="#e6e7e9" stroke-linejoin="miter"/>
<text x="657.9" y="271" font-size="11.0" textLength="17.3" lengthAdjust="spacingAndGlyphs" fill="#231f20" stroke="#231f20" stroke-width="0.2">RES</text>
<text x="675.6" y="271" font-size="11.0" textLength="5.6" lengthAdjust="spacingAndGlyphs" fill="#6d6e71" stroke="#6d6e71" stroke-width="0.2">_</text>
<text x="682.2" y="271" font-size="11.0" textLength="12" lengthAdjust="spacingAndGlyphs" fill="#231f20" stroke="#231f20" stroke-width="0.2">WI</text>
<text x="696.7" y="271" font-size="11.0" textLength="18.1" lengthAdjust="spacingAndGlyphs" fill="#231f20" stroke="#231f20" stroke-width="0.2">RE3</text>
<path d="M609.9 267.75L616.8 265.45L616.8 270.05Z" stroke="#4a4a4a" stroke-width="0.9" fill="#fff" stroke-linejoin="miter"/>
<path d="M624 267.75L617.6 265.55L617.6 269.95Z" stroke="#4a4a4a" stroke-width="0.9" fill="#fff" stroke-linejoin="miter"/>
<path d="M617.2 265.45L617.2 270.05" stroke="#444" stroke-width="1.3" fill="none"/>
<path d="M609.3 279.65L646 279.65" stroke="#6a6a6a" stroke-width="1.05" fill="none"/>
<path d="M645.5 279.65L651.3 273.85L714.2 273.85L720 279.65L714.2 285.45L651.3 285.45Z" stroke="#58595b" stroke-width="1" fill="#e6e7e9" stroke-linejoin="miter"/>
<text x="657.9" y="283" font-size="11.0" textLength="47.4" lengthAdjust="spacingAndGlyphs" fill="#231f20" stroke="#231f20" stroke-width="0.2">Humidifer</text>
<path d="M609.9 279.65L616.8 277.35L616.8 281.95Z" stroke="#4a4a4a" stroke-width="0.9" fill="#fff" stroke-linejoin="miter"/>
<path d="M624 279.65L617.6 277.45L617.6 281.85Z" stroke="#4a4a4a" stroke-width="0.9" fill="#fff" stroke-linejoin="miter"/>
<path d="M617.2 277.35L617.2 281.95" stroke="#444" stroke-width="1.3" fill="none"/>
<path d="M609.3 291.55L646 291.55" stroke="#6a6a6a" stroke-width="1.05" fill="none"/>
<path d="M645.5 291.55L651.3 285.75L721.25 285.75L721.25 297.35L651.3 297.35Z" stroke="#58595b" stroke-width="1" fill="#e6e7e9" stroke-linejoin="miter"/>
<text x="652.9" y="295" font-size="11.0" textLength="27.7" lengthAdjust="spacingAndGlyphs" fill="#231f20" stroke="#231f20" stroke-width="0.2">USAR</text>
<text x="681.7" y="295" font-size="11.0" textLength="10.5" lengthAdjust="spacingAndGlyphs" fill="#231f20" stroke="#231f20" stroke-width="0.2">T1</text>
<text x="692.6" y="295" font-size="11.0" textLength="6.2" lengthAdjust="spacingAndGlyphs" fill="#6d6e71" stroke="#6d6e71" stroke-width="0.2">_</text>
<text x="699.6" y="295" font-size="11.0" textLength="12.2" lengthAdjust="spacingAndGlyphs" fill="#231f20" stroke="#231f20" stroke-width="0.2">RX</text>
<path d="M609.9 291.55L616.8 289.25L616.8 293.85Z" stroke="#4a4a4a" stroke-width="0.9" fill="#fff" stroke-linejoin="miter"/>
<path d="M624 291.55L617.6 289.35L617.6 293.75Z" stroke="#4a4a4a" stroke-width="0.9" fill="#fff" stroke-linejoin="miter"/>
<path d="M617.2 289.25L617.2 293.85" stroke="#444" stroke-width="1.3" fill="none"/>
<path d="M609.3 303.45L646 303.45" stroke="#6a6a6a" stroke-width="1.05" fill="none"/>
<path d="M645.5 309.25L645.5 297.65L715.45 297.65L721.25 303.45L715.45 309.25Z" stroke="#58595b" stroke-width="1" fill="#e6e7e9" stroke-linejoin="miter"/>
<text x="653.3" y="307" font-size="11.0" textLength="27.3" lengthAdjust="spacingAndGlyphs" fill="#231f20" stroke="#231f20" stroke-width="0.2">USAR</text>
<text x="681.7" y="307" font-size="11.0" textLength="10.5" lengthAdjust="spacingAndGlyphs" fill="#231f20" stroke="#231f20" stroke-width="0.2">T1</text>
<text x="692.6" y="307" font-size="11.0" textLength="6.2" lengthAdjust="spacingAndGlyphs" fill="#6d6e71" stroke="#6d6e71" stroke-width="0.2">_</text>
<text x="700.3" y="307" font-size="11.0" textLength="10.8" lengthAdjust="spacingAndGlyphs" fill="#231f20" stroke="#231f20" stroke-width="0.2">TX</text>
<path d="M609.9 303.45L616.8 301.15L616.8 305.75Z" stroke="#4a4a4a" stroke-width="0.9" fill="#fff" stroke-linejoin="miter"/>
<path d="M624 303.45L617.6 301.25L617.6 305.65Z" stroke="#4a4a4a" stroke-width="0.9" fill="#fff" stroke-linejoin="miter"/>
<path d="M617.2 301.15L617.2 305.75" stroke="#444" stroke-width="1.3" fill="none"/>
<path d="M609.3 315.35L646 315.35" stroke="#6a6a6a" stroke-width="1.05" fill="none"/>
<path d="M645.5 315.35L651.3 309.55L714.2 309.55L720 315.35L714.2 321.15L651.3 321.15Z" stroke="#58595b" stroke-width="1" fill="#e6e7e9" stroke-linejoin="miter"/>
<text x="673" y="319" font-size="11.0" textLength="18.75" lengthAdjust="spacingAndGlyphs" fill="#231f20" stroke="#231f20" stroke-width="0.2">FAN</text>
<path d="M609.9 315.35L616.8 313.05L616.8 317.65Z" stroke="#4a4a4a" stroke-width="0.9" fill="#fff" stroke-linejoin="miter"/>
<path d="M624 315.35L617.6 313.15L617.6 317.55Z" stroke="#4a4a4a" stroke-width="0.9" fill="#fff" stroke-linejoin="miter"/>
<path d="M617.2 313.05L617.2 317.65" stroke="#444" stroke-width="1.3" fill="none"/>
<path d="M609.3 327.25L646 327.25" stroke="#6a6a6a" stroke-width="1.05" fill="none"/>
<path d="M645.5 327.25L651.3 321.45L705 321.45L705 333.05L651.3 333.05Z" stroke="#58595b" stroke-width="1" fill="#e6e7e9" stroke-linejoin="miter"/>
<text x="658" y="331" font-size="11.0" textLength="27" lengthAdjust="spacingAndGlyphs" fill="#231f20" stroke="#231f20" stroke-width="0.2">KEY 5</text>
<path d="M609.9 327.25L616.8 324.95L616.8 329.55Z" stroke="#4a4a4a" stroke-width="0.9" fill="#fff" stroke-linejoin="miter"/>
<path d="M624 327.25L617.6 325.05L617.6 329.45Z" stroke="#4a4a4a" stroke-width="0.9" fill="#fff" stroke-linejoin="miter"/>
<path d="M617.2 324.95L617.2 329.55" stroke="#444" stroke-width="1.3" fill="none"/>
<path d="M609.3 339.15L646 339.15" stroke="#6a6a6a" stroke-width="1.05" fill="none"/>
<path d="M645.5 339.15L651.3 333.35L705 333.35L705 344.95L651.3 344.95Z" stroke="#58595b" stroke-width="1" fill="#e6e7e9" stroke-linejoin="miter"/>
<text x="658" y="343" font-size="11.0" textLength="27" lengthAdjust="spacingAndGlyphs" fill="#231f20" stroke="#231f20" stroke-width="0.2">KEY 4</text>
<path d="M609.9 339.15L616.8 336.85L616.8 341.45Z" stroke="#4a4a4a" stroke-width="0.9" fill="#fff" stroke-linejoin="miter"/>
<path d="M624 339.15L617.6 336.95L617.6 341.35Z" stroke="#4a4a4a" stroke-width="0.9" fill="#fff" stroke-linejoin="miter"/>
<path d="M617.2 336.85L617.2 341.45" stroke="#444" stroke-width="1.3" fill="none"/>
<path d="M609.3 351.05L646 351.05" stroke="#6a6a6a" stroke-width="1.05" fill="none"/>
<path d="M645.5 351.05L651.3 345.25L705 345.25L705 356.85L651.3 356.85Z" stroke="#58595b" stroke-width="1" fill="#e6e7e9" stroke-linejoin="miter"/>
<text x="658" y="355" font-size="11.0" textLength="27" lengthAdjust="spacingAndGlyphs" fill="#231f20" stroke="#231f20" stroke-width="0.2">KEY 3</text>
<path d="M609.9 351.05L616.8 348.75L616.8 353.35Z" stroke="#4a4a4a" stroke-width="0.9" fill="#fff" stroke-linejoin="miter"/>
<path d="M624 351.05L617.6 348.85L617.6 353.25Z" stroke="#4a4a4a" stroke-width="0.9" fill="#fff" stroke-linejoin="miter"/>
<path d="M617.2 348.75L617.2 353.35" stroke="#444" stroke-width="1.3" fill="none"/>
<path d="M609.3 362.95L646 362.95" stroke="#6a6a6a" stroke-width="1.05" fill="none"/>
<path d="M645.5 362.95L651.3 357.15L705 357.15L705 368.75L651.3 368.75Z" stroke="#58595b" stroke-width="1" fill="#e6e7e9" stroke-linejoin="miter"/>
<text x="658" y="366" font-size="11.0" textLength="27" lengthAdjust="spacingAndGlyphs" fill="#231f20" stroke="#231f20" stroke-width="0.2">KEY 2</text>
<path d="M609.9 362.95L616.8 360.65L616.8 365.25Z" stroke="#4a4a4a" stroke-width="0.9" fill="#fff" stroke-linejoin="miter"/>
<path d="M624 362.95L617.6 360.75L617.6 365.15Z" stroke="#4a4a4a" stroke-width="0.9" fill="#fff" stroke-linejoin="miter"/>
<path d="M617.2 360.65L617.2 365.25" stroke="#444" stroke-width="1.3" fill="none"/>
<path d="M657.5 232.05L657.5 255.55" stroke="#6a6a6a" stroke-width="1.1" fill="none"/>
<path d="M190.2 65.5L150.2 65.5L150.2 124.7L176 124.7L176 110.5L192.6 110.5" stroke="#6a6a6a" stroke-width="1.05" fill="none" stroke-linejoin="miter"/>
<path d="M196.9 110.5L212.5 110.5L212.5 124.7L246.4 124.7" stroke="#6a6a6a" stroke-width="1.05" fill="none" stroke-linejoin="miter"/>
<path d="M194.6 65.5L298 65.5L298 113.05" stroke="#6a6a6a" stroke-width="1.05" fill="none" stroke-linejoin="miter"/>
<path d="M190.2 56.2L190.2 74.8" stroke="#8e8e8e" stroke-width="1.1" fill="none"/>
<path d="M194.6 56.2L194.6 74.8" stroke="#8e8e8e" stroke-width="1.1" fill="none"/>
<path d="M192.6 101.1L192.6 120.3" stroke="#8e8e8e" stroke-width="1.1" fill="none"/>
<path d="M196.9 101.1L196.9 120.3" stroke="#8e8e8e" stroke-width="1.1" fill="none"/>
<text x="185" y="52" font-size="11.5" textLength="13" lengthAdjust="spacingAndGlyphs" fill="#231f20" stroke="#231f20" stroke-width="0.2">C1</text>
<text x="188" y="98" font-size="11.5" textLength="12" lengthAdjust="spacingAndGlyphs" fill="#231f20" stroke="#231f20" stroke-width="0.2">C6</text>
<text x="163" y="87" font-size="8.8" textLength="59.5" lengthAdjust="spacingAndGlyphs" fill="#231f20" stroke="#231f20" stroke-width="0.08">18pF/0603/50V</text>
<text x="165.5" y="133" font-size="8.8" textLength="59.5" lengthAdjust="spacingAndGlyphs" fill="#231f20" stroke="#231f20" stroke-width="0.08">18pF/0603/50V</text>
<path d="M138.2 89.2L138.2 113" stroke="#6a6a6a" stroke-width="1.1" fill="none"/>
<path d="M134.6 92.6L134.6 109.6" stroke="#6a6a6a" stroke-width="1.05" fill="none"/>
<path d="M130.9 96.3L130.9 105.9" stroke="#6a6a6a" stroke-width="1.05" fill="none"/>
<path d="M127.4 99.5L127.4 102.7" stroke="#6a6a6a" stroke-width="1.05" fill="none"/>
<path d="M138.2 101.1L150.2 101.1" stroke="#6a6a6a" stroke-width="1.05" fill="none"/>
<text x="100.7" y="105" font-size="11.5" textLength="21.8" lengthAdjust="spacingAndGlyphs" fill="#231f20" stroke="#231f20" stroke-width="0.2">GND</text>
<circle cx="150.2" cy="101.1" r="2.6" fill="#1a1a1a"/>
<path d="M246.4 65.5L246.4 88.9" stroke="#6a6a6a" stroke-width="1.05" fill="none"/>
<path d="M246.4 100.8L246.4 124.7" stroke="#6a6a6a" stroke-width="1.05" fill="none"/>
<path d="M241.2 89.2L251.6 89.2" stroke="#6a6a6a" stroke-width="1.05" fill="none"/>
<path d="M241.2 101L251.6 101" stroke="#6a6a6a" stroke-width="1.05" fill="none"/>
<rect x="237.6" y="91.1" width="16.2" height="7.6" fill="#fff" stroke="#8e8e8e" stroke-width="1"/>
<circle cx="246.4" cy="65.5" r="2.6" fill="#1a1a1a"/>
<circle cx="246.4" cy="124.8" r="2.6" fill="#1a1a1a"/>
<text x="256" y="98" font-size="11.5" textLength="12" lengthAdjust="spacingAndGlyphs" fill="#231f20" stroke="#231f20" stroke-width="0.2">Y1</text>
<text x="251" y="121" font-size="8.8" textLength="62.75" lengthAdjust="spacingAndGlyphs" fill="#231f20" stroke="#231f20" stroke-width="0.08">32.768KHz/3215</text>
<text x="243.5" y="79.7" font-size="11.5" textLength="6.08" lengthAdjust="spacingAndGlyphs" fill="#231f20" stroke="#231f20" stroke-width="0.2" transform="rotate(-90 243.5 79.7)">2</text>
<text x="243.5" y="116" font-size="11.5" textLength="6.08" lengthAdjust="spacingAndGlyphs" fill="#231f20" stroke="#231f20" stroke-width="0.2" transform="rotate(-90 243.5 116)">1</text>
<path d="M247.5 136.85L211.75 136.85L211.75 151.25L196.2 151.25" stroke="#6a6a6a" stroke-width="1.05" fill="none" stroke-linejoin="miter"/>
<path d="M191.4 151.25L175 151.25L175 136.85L151.2 136.85L151.2 196.3L190.8 196.3" stroke="#6a6a6a" stroke-width="1.05" fill="none" stroke-linejoin="miter"/>
<path d="M195.8 196.3L297.1 196.3L297.1 148.75" stroke="#6a6a6a" stroke-width="1.05" fill="none" stroke-linejoin="miter"/>
<path d="M191.4 141.25L191.4 161.25" stroke="#8e8e8e" stroke-width="1.1" fill="none"/>
<path d="M196.2 141.25L196.2 161.25" stroke="#8e8e8e" stroke-width="1.1" fill="none"/>
<path d="M190.8 186.3L190.8 206.3" stroke="#8e8e8e" stroke-width="1.1" fill="none"/>
<path d="M195.8 186.3L195.8 206.3" stroke="#8e8e8e" stroke-width="1.1" fill="none"/>
<text x="188.75" y="141" font-size="11.5" textLength="16.25" lengthAdjust="spacingAndGlyphs" fill="#231f20" stroke="#231f20" stroke-width="0.2">C11</text>
<text x="186.25" y="183" font-size="11.5" textLength="18.75" lengthAdjust="spacingAndGlyphs" fill="#231f20" stroke="#231f20" stroke-width="0.2">C12</text>
<text x="171.25" y="170" font-size="8.8" textLength="59.25" lengthAdjust="spacingAndGlyphs" fill="#231f20" stroke="#231f20" stroke-width="0.08">18pF/0603/50V</text>
<text x="201.25" y="207" font-size="8.8" textLength="59.5" lengthAdjust="spacingAndGlyphs" fill="#231f20" stroke="#231f20" stroke-width="0.08">18pF/0603/50V</text>
<path d="M139.25 160.6L139.25 184.4" stroke="#6a6a6a" stroke-width="1.1" fill="none"/>
<path d="M135.65 164L135.65 181" stroke="#6a6a6a" stroke-width="1.05" fill="none"/>
<path d="M131.95 167.7L131.95 177.3" stroke="#6a6a6a" stroke-width="1.05" fill="none"/>
<path d="M128.45 170.9L128.45 174.1" stroke="#6a6a6a" stroke-width="1.05" fill="none"/>
<path d="M139.25 172.5L151.2 172.5" stroke="#6a6a6a" stroke-width="1.05" fill="none"/>
<text x="102" y="176" font-size="11.5" textLength="21.75" lengthAdjust="spacingAndGlyphs" fill="#231f20" stroke="#231f20" stroke-width="0.2">GND</text>
<circle cx="151.2" cy="172.5" r="2.6" fill="#1a1a1a"/>
<path d="M247.5 136.85L247.5 160.6" stroke="#6a6a6a" stroke-width="1.05" fill="none"/>
<path d="M247.5 172.4L247.5 196.3" stroke="#6a6a6a" stroke-width="1.05" fill="none"/>
<path d="M242.4 160.6L252.4 160.6" stroke="#6a6a6a" stroke-width="1.05" fill="none"/>
<path d="M242.4 172.4L252.4 172.4" stroke="#6a6a6a" stroke-width="1.05" fill="none"/>
<rect x="238.9" y="162.9" width="16.6" height="7.3" fill="#fff" stroke="#8e8e8e" stroke-width="1"/>
<circle cx="247.5" cy="136.85" r="2.6" fill="#1a1a1a"/>
<circle cx="247.5" cy="196.3" r="2.6" fill="#1a1a1a"/>
<text x="257.5" y="169" font-size="11.5" textLength="13" lengthAdjust="spacingAndGlyphs" fill="#231f20" stroke="#231f20" stroke-width="0.2">Y2</text>
<text x="251.25" y="187" font-size="8.8" textLength="44.25" lengthAdjust="spacingAndGlyphs" fill="#231f20" stroke="#231f20" stroke-width="0.08">8MHz/3225</text>
<text x="244.5" y="151.2" font-size="11.5" textLength="6.08" lengthAdjust="spacingAndGlyphs" fill="#231f20" stroke="#231f20" stroke-width="0.2" transform="rotate(-90 244.5 151.2)">3</text>
<text x="244.5" y="187.2" font-size="11.5" textLength="6.08" lengthAdjust="spacingAndGlyphs" fill="#231f20" stroke="#231f20" stroke-width="0.2" transform="rotate(-90 244.5 187.2)">1</text>
<text x="118.75" y="225" font-size="11.5" textLength="18.75" lengthAdjust="spacingAndGlyphs" fill="#231f20" stroke="#231f20" stroke-width="0.2">3V3</text>
<path d="M139.5 215.5L139.5 227.3" stroke="#6a6a6a" stroke-width="1.05" fill="none"/>
<path d="M139.5 221.3L163 221.3" stroke="#6a6a6a" stroke-width="1.05" fill="none"/>
<path d="M163 221.3L167.5 221.3" stroke="#9a9a9a" stroke-width="1.05" fill="none"/>
<path d="M183 221.3L187.6 221.3" stroke="#9a9a9a" stroke-width="1.05" fill="none"/>
<path d="M167.5 221.3L169.3 218.75L171.7 223.85L174.2 218.75L176.7 223.85L179.15 218.75L181.6 223.85L183 221.3" stroke="#5c5c5c" stroke-width="1.05" fill="none" stroke-linejoin="miter"/>
<path d="M187.6 221.3L313 221.3L313 160.65" stroke="#6a6a6a" stroke-width="1.05" fill="none" stroke-linejoin="miter"/>
<text x="157" y="218" font-size="11.5" textLength="11.75" lengthAdjust="spacingAndGlyphs" fill="#231f20" stroke="#231f20" stroke-width="0.2">R4</text>
<text x="180.1" y="217" font-size="8.8" textLength="51.9" lengthAdjust="spacingAndGlyphs" fill="#231f20" stroke="#231f20" stroke-width="0.08">10K/0603/5%</text>
<circle cx="207.5" cy="221.3" r="2.6" fill="#1a1a1a"/>
<circle cx="247.5" cy="221.3" r="2.6" fill="#1a1a1a"/>
<path d="M207.5 221.3L207.5 259" stroke="#6a6a6a" stroke-width="1.05" fill="none"/>
<path d="M207.5 263.6L207.5 304.6L247.6 304.6L247.6 280" stroke="#6a6a6a" stroke-width="1.05" fill="none" stroke-linejoin="miter"/>
<path d="M197.6 259L217.4 259" stroke="#8e8e8e" stroke-width="1.1" fill="none"/>
<path d="M197.6 263.6L217.4 263.6" stroke="#8e8e8e" stroke-width="1.1" fill="none"/>
<text x="175.8" y="266" font-size="11.5" textLength="18.5" lengthAdjust="spacingAndGlyphs" fill="#231f20" stroke="#231f20" stroke-width="0.2">C13</text>
<text x="229.1" y="295.2" font-size="9.7" textLength="58.6" lengthAdjust="spacingAndGlyphs" fill="#231f20" stroke="#231f20" stroke-width="0.2" transform="rotate(-90 229.1 295.2)">100nF/0603/6.3V</text>
<path d="M247.5 221.3L247.5 245.5" stroke="#6a6a6a" stroke-width="1.05" fill="none"/>
<circle cx="247.5" cy="247.5" r="2" fill="#fff" stroke="#6a6a6a" stroke-width="0.9"/>
<circle cx="247.5" cy="278" r="2" fill="#fff" stroke="#6a6a6a" stroke-width="0.9"/>
<path d="M255 244.8L255 280.6" stroke="#666" stroke-width="1.6" fill="none"/>
<rect x="255.3" y="258" width="4.2" height="9" fill="#666"/>
<text x="261.25" y="266" font-size="11.5" textLength="10.5" lengthAdjust="spacingAndGlyphs" fill="#231f20" stroke="#231f20" stroke-width="0.2">S1</text>
<text x="244.4" y="235.2" font-size="11.5" textLength="6.08" lengthAdjust="spacingAndGlyphs" fill="#231f20" stroke="#231f20" stroke-width="0.2" transform="rotate(-90 244.4 235.2)">1</text>
<text x="251.1" y="259" font-size="11.5" textLength="6.08" lengthAdjust="spacingAndGlyphs" fill="#231f20" stroke="#231f20" stroke-width="0.2" transform="rotate(-90 251.1 259)">1</text>
<text x="251.1" y="271.7" font-size="11.5" textLength="6.08" lengthAdjust="spacingAndGlyphs" fill="#231f20" stroke="#231f20" stroke-width="0.2" transform="rotate(-90 251.1 271.7)">2</text>
<text x="245.2" y="295.5" font-size="11.5" textLength="5.76" lengthAdjust="spacingAndGlyphs" fill="#231f20" stroke="#231f20" stroke-width="0.2" transform="rotate(-90 245.2 295.5)">2</text>
<circle cx="227" cy="304.6" r="2.5" fill="#1a1a1a"/>
<path d="M227 304.6L227 316.5" stroke="#6a6a6a" stroke-width="1.05" fill="none"/>
<path d="M215 316.5L239.4 316.5" stroke="#6a6a6a" stroke-width="1.05" fill="none"/>
<path d="M218.5 320.25L235.6 320.25" stroke="#6a6a6a" stroke-width="1.05" fill="none"/>
<path d="M222 323.6L232 323.6" stroke="#6a6a6a" stroke-width="1.05" fill="none"/>
<path d="M225.6 327.1L228.2 327.1" stroke="#6a6a6a" stroke-width="1.05" fill="none"/>
<text x="216.25" y="338" font-size="11.5" textLength="21.85" lengthAdjust="spacingAndGlyphs" fill="#231f20" stroke="#231f20" stroke-width="0.2">GND</text>
<text x="99.5" y="380" font-size="11.5" textLength="18.1" lengthAdjust="spacingAndGlyphs" fill="#231f20" stroke="#231f20" stroke-width="0.2">3V3</text>
<path d="M120.2 369.5L120.2 382" stroke="#6a6a6a" stroke-width="1.05" fill="none"/>
<path d="M120.2 376L203.6 376" stroke="#6a6a6a" stroke-width="1.05" fill="none"/>
<path d="M156.1 364L168.6 376L156.1 388Z" stroke="#595959" stroke-width="0.6" fill="#595959" stroke-linejoin="miter"/>
<path d="M168.6 364L168.6 388" stroke="#8a8a8a" stroke-width="1.05" fill="none"/>
<text x="155.6" y="348" font-size="11.5" textLength="12.4" lengthAdjust="spacingAndGlyphs" fill="#231f20" stroke="#231f20" stroke-width="0.2">D3</text>
<path d="M168.6 359.2L176.9 350.9" stroke="#606060" stroke-width="1.0" fill="none"/>
<path d="M176.9 350.9L174.85 355.64L172.16 352.95Z" stroke="#555" stroke-width="0.3" fill="#555" stroke-linejoin="miter"/>
<path d="M172.9 364L181.5 355.7" stroke="#606060" stroke-width="1.0" fill="none"/>
<path d="M181.5 355.7L179.37 360.4L176.73 357.67Z" stroke="#555" stroke-width="0.3" fill="#555" stroke-linejoin="miter"/>
<path d="M208.2 376L210 373.45L212.4 378.55L214.9 373.45L217.4 378.55L219.85 373.45L222.3 378.55L223.7 376" stroke="#5c5c5c" stroke-width="1.05" fill="none" stroke-linejoin="miter"/>
<path d="M203.6 376L208.2 376" stroke="#9a9a9a" stroke-width="1.05" fill="none"/>
<path d="M223.7 376L228.5 376" stroke="#9a9a9a" stroke-width="1.05" fill="none"/>
<path d="M228.5 376L240.5 376" stroke="#6a6a6a" stroke-width="1.05" fill="none"/>
<text x="204" y="370" font-size="11.5" textLength="12" lengthAdjust="spacingAndGlyphs" fill="#231f20" stroke="#231f20" stroke-width="0.2">R8</text>
<text x="203.3" y="387" font-size="8.8" textLength="48.3" lengthAdjust="spacingAndGlyphs" fill="#231f20" stroke="#231f20" stroke-width="0.08">1K/0603/5%</text>
<path d="M240 376.1L246.5 370.1L309.8 370.1L316.3 376.1L309.8 382.1L246.5 382.1Z" stroke="#58595b" stroke-width="1" fill="#e6e7e9" stroke-linejoin="miter"/>
<text x="268" y="380" font-size="11.0" textLength="18.4" lengthAdjust="spacingAndGlyphs" fill="#231f20" stroke="#231f20" stroke-width="0.2">LED</text>
<rect x="218.3" y="398.5" width="120.4" height="72" fill="none" stroke="#9a9a9a" stroke-width="0.75" stroke-dasharray="0.9 1.1"/>
<text x="255.1" y="468" font-size="11.5" textLength="28.8" lengthAdjust="spacingAndGlyphs" fill="#a7a9ac" stroke="#a7a9ac" stroke-width="0.2">VDDA</text>
<path d="M206.9 398.5L206.9 422.3" stroke="#6a6a6a" stroke-width="1.1" fill="none"/>
<path d="M203.3 401.9L203.3 418.9" stroke="#6a6a6a" stroke-width="1.05" fill="none"/>
<path d="M199.6 405.6L199.6 415.2" stroke="#6a6a6a" stroke-width="1.05" fill="none"/>
<path d="M196.1 408.8L196.1 412" stroke="#6a6a6a" stroke-width="1.05" fill="none"/>
<path d="M206.9 410.4L651.3 410.4" stroke="#6a6a6a" stroke-width="1.05" fill="none"/>
<text x="169.1" y="414" font-size="11.5" textLength="21.9" lengthAdjust="spacingAndGlyphs" fill="#231f20" stroke="#231f20" stroke-width="0.2">GND</text>
<text x="185.6" y="449" font-size="11.5" textLength="19.2" lengthAdjust="spacingAndGlyphs" fill="#231f20" stroke="#231f20" stroke-width="0.2">3V3</text>
<path d="M207.1 440.5L207.1 452.3" stroke="#6a6a6a" stroke-width="1.05" fill="none"/>
<path d="M207.1 446.3L651.3 446.3" stroke="#6a6a6a" stroke-width="1.05" fill="none"/>
<path d="M242.6 410.4L242.6 426" stroke="#6a6a6a" stroke-width="1.05" fill="none"/>
<path d="M242.6 430.7L242.6 446.3" stroke="#6a6a6a" stroke-width="1.05" fill="none"/>
<path d="M232.8 426L252.4 426" stroke="#8e8e8e" stroke-width="1.1" fill="none"/>
<path d="M232.8 430.7L252.4 430.7" stroke="#8e8e8e" stroke-width="1.1" fill="none"/>
<circle cx="242.6" cy="410.4" r="2.5" fill="#1a1a1a"/>
<circle cx="242.6" cy="446.3" r="2.5" fill="#1a1a1a"/>
<text x="253.8" y="431" font-size="11.5" textLength="18.8" lengthAdjust="spacingAndGlyphs" fill="#231f20" stroke="#231f20" stroke-width="0.2">C14</text>
<text x="255.2" y="444" font-size="8.8" textLength="56.4" lengthAdjust="spacingAndGlyphs" fill="#231f20" stroke="#231f20" stroke-width="0.08">1uF/0603/6.3V</text>
<path d="M314.7 410.4L314.7 426" stroke="#6a6a6a" stroke-width="1.05" fill="none"/>
<path d="M314.7 430.7L314.7 446.3" stroke="#6a6a6a" stroke-width="1.05" fill="none"/>
<path d="M304.9 426L324.5 426" stroke="#8e8e8e" stroke-width="1.1" fill="none"/>
<path d="M304.9 430.7L324.5 430.7" stroke="#8e8e8e" stroke-width="1.1" fill="none"/>
<circle cx="314.7" cy="410.4" r="2.5" fill="#1a1a1a"/>
<circle cx="314.7" cy="446.3" r="2.5" fill="#1a1a1a"/>
<text x="325.9" y="431" font-size="11.5" textLength="18.8" lengthAdjust="spacingAndGlyphs" fill="#231f20" stroke="#231f20" stroke-width="0.2">C15</text>
<text x="327.3" y="444" font-size="8.8" textLength="66.7" lengthAdjust="spacingAndGlyphs" fill="#231f20" stroke="#231f20" stroke-width="0.08">100nF/0603/6.3V</text>
<path d="M398.5 410.4L398.5 426" stroke="#6a6a6a" stroke-width="1.05" fill="none"/>
<path d="M398.5 430.7L398.5 446.3" stroke="#6a6a6a" stroke-width="1.05" fill="none"/>
<path d="M388.7 426L408.3 426" stroke="#8e8e8e" stroke-width="1.1" fill="none"/>
<path d="M388.7 430.7L408.3 430.7" stroke="#8e8e8e" stroke-width="1.1" fill="none"/>
<circle cx="398.5" cy="410.4" r="2.5" fill="#1a1a1a"/>
<circle cx="398.5" cy="446.3" r="2.5" fill="#1a1a1a"/>
<text x="409.7" y="431" font-size="11.5" textLength="18.8" lengthAdjust="spacingAndGlyphs" fill="#231f20" stroke="#231f20" stroke-width="0.2">C16</text>
<text x="411.1" y="444" font-size="8.8" textLength="64.6" lengthAdjust="spacingAndGlyphs" fill="#231f20" stroke="#231f20" stroke-width="0.08">100nF/0603/6.3V</text>
<path d="M482.7 410.4L482.7 426" stroke="#6a6a6a" stroke-width="1.05" fill="none"/>
<path d="M482.7 430.7L482.7 446.3" stroke="#6a6a6a" stroke-width="1.05" fill="none"/>
<path d="M472.9 426L492.5 426" stroke="#8e8e8e" stroke-width="1.1" fill="none"/>
<path d="M472.9 430.7L492.5 430.7" stroke="#8e8e8e" stroke-width="1.1" fill="none"/>
<circle cx="482.7" cy="410.4" r="2.5" fill="#1a1a1a"/>
<circle cx="482.7" cy="446.3" r="2.5" fill="#1a1a1a"/>
<text x="493.9" y="431" font-size="11.5" textLength="18.8" lengthAdjust="spacingAndGlyphs" fill="#231f20" stroke="#231f20" stroke-width="0.2">C17</text>
<text x="495.3" y="444" font-size="8.8" textLength="64.6" lengthAdjust="spacingAndGlyphs" fill="#231f20" stroke="#231f20" stroke-width="0.08">100nF/0603/6.3V</text>
<path d="M567 410.4L567 426" stroke="#6a6a6a" stroke-width="1.05" fill="none"/>
<path d="M567 430.7L567 446.3" stroke="#6a6a6a" stroke-width="1.05" fill="none"/>
<path d="M557.2 426L576.8 426" stroke="#8e8e8e" stroke-width="1.1" fill="none"/>
<path d="M557.2 430.7L576.8 430.7" stroke="#8e8e8e" stroke-width="1.1" fill="none"/>
<circle cx="567" cy="410.4" r="2.5" fill="#1a1a1a"/>
<circle cx="567" cy="446.3" r="2.5" fill="#1a1a1a"/>
<text x="578.2" y="431" font-size="11.5" textLength="18.8" lengthAdjust="spacingAndGlyphs" fill="#231f20" stroke="#231f20" stroke-width="0.2">C18</text>
<text x="579.6" y="444" font-size="8.8" textLength="64.6" lengthAdjust="spacingAndGlyphs" fill="#231f20" stroke="#231f20" stroke-width="0.08">100nF/0603/6.3V</text>
<path d="M651.3 410.4L651.3 426" stroke="#6a6a6a" stroke-width="1.05" fill="none"/>
<path d="M651.3 430.7L651.3 446.3" stroke="#6a6a6a" stroke-width="1.05" fill="none"/>
<path d="M641.5 426L661.1 426" stroke="#8e8e8e" stroke-width="1.1" fill="none"/>
<path d="M641.5 430.7L661.1 430.7" stroke="#8e8e8e" stroke-width="1.1" fill="none"/>
<text x="662.5" y="431" font-size="11.5" textLength="18.8" lengthAdjust="spacingAndGlyphs" fill="#231f20" stroke="#231f20" stroke-width="0.2">C19</text>
<text x="663.9" y="444" font-size="8.8" textLength="62" lengthAdjust="spacingAndGlyphs" fill="#231f20" stroke="#231f20" stroke-width="0.08">10uF/0603/6.3V</text>
<g fill="#231f20">
<text class="cap" x="54" y="496.75" font-size="12.3">图</text>
<text class="cap" x="70.1" y="496.9" font-size="12.3">3</text>
<text class="cap" x="89.9" y="496.75" font-size="12.3" textLength="177.7" lengthAdjust="spacing">主控电路与其它模块连接原理图</text>
</g>
</svg>
</body></html>
